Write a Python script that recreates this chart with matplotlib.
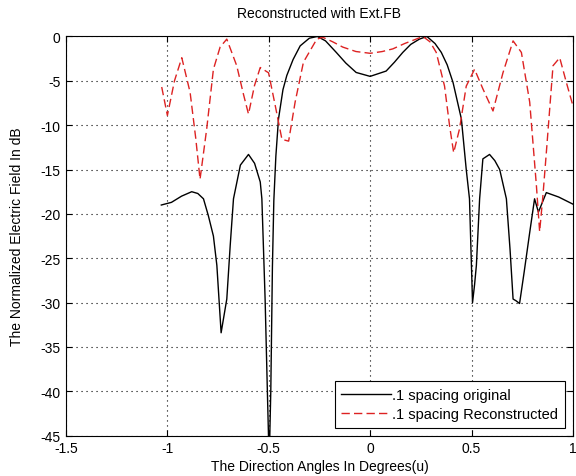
import matplotlib.pyplot as plt

plt.rcParams['font.family'] = ['Liberation Sans', 'DejaVu Sans']
plt.rcParams['axes.unicode_minus'] = False

# original pattern (.1 spacing)
u_orig = [-1.03, -0.98, -0.93, -0.88, -0.85, -0.822, -0.798, -0.773, -0.756, -0.735,
          -0.707, -0.69, -0.674, -0.64, -0.60, -0.57, -0.542, -0.534, -0.518, -0.506,
          -0.498, -0.49, -0.482, -0.475, -0.465, -0.452, -0.43, -0.411, -0.38, -0.345,
          -0.30, -0.26, -0.22, -0.167, -0.12, -0.069, 0.0, 0.079, 0.12, 0.161, 0.20,
          0.243, 0.28, 0.32, 0.351, 0.38, 0.409, 0.45, 0.474, 0.49, 0.505, 0.515,
          0.524, 0.54, 0.556, 0.589, 0.615, 0.639, 0.672, 0.69, 0.705, 0.72, 0.737,
          0.76, 0.787, 0.811, 0.83, 0.869, 0.93, 1.0]
db_orig = [-19.0, -18.7, -18.0, -17.5, -17.7, -18.3, -20.2, -22.5, -25.8, -33.4,
           -29.6, -23.5, -18.3, -14.5, -13.3, -14.3, -16.4, -18.3, -29.6, -40.8,
           -48.0, -40.0, -26.0, -18.5, -13.5, -9.3, -6.0, -4.4, -2.6, -1.06,
           -0.2, 0.0, -0.5, -1.8, -3.0, -4.06, -4.5, -3.9, -2.9, -1.8, -0.9,
           -0.3, 0.0, -0.8, -1.8, -3.2, -5.2, -9.3, -15.0, -18.3, -30.0, -28.0,
           -25.8, -18.3, -13.8, -13.3, -14.0, -15.0, -18.3, -24.0, -29.6, -29.8, -30.1,
           -26.5, -22.1, -18.3, -19.8, -17.6, -18.1, -18.9]

# reconstructed pattern (Ext.FB)
u_rec = [-1.028, -1.0, -0.965, -0.929, -0.888, -0.86, -0.839, -0.806, -0.773, -0.74,
         -0.707, -0.658, -0.625, -0.600, -0.57, -0.542, -0.501, -0.468, -0.435, -0.402,
         -0.37, -0.329, -0.263, -0.233, -0.185, -0.135, -0.07, 0.0, 0.06, 0.112, 0.17,
         0.227, 0.26, 0.295, 0.326, 0.367, 0.392, 0.412, 0.441, 0.474, 0.515, 0.556,
         0.606, 0.655, 0.705, 0.746, 0.787, 0.82, 0.836, 0.852, 0.869, 0.902, 0.935,
         0.968, 1.0]
db_rec = [-5.7, -8.9, -5.0, -2.4, -6.3, -11.5, -16.1, -10.4, -3.7, -1.2,
          -0.3, -3.3, -6.5, -8.75, -5.5, -3.5, -4.1, -7.8, -11.6, -11.8,
          -7.4, -2.9, -0.3, -0.1, -0.6, -1.2, -1.7, -1.9, -1.7, -1.4, -0.8,
          -0.3, 0.0, -0.6, -1.8, -5.6, -10.1, -13.1, -10.4, -5.6, -3.7, -5.9,
          -8.4, -4.1, -0.5, -1.8, -7.4, -16.8, -22.0, -18.0, -13.1, -3.3, -2.4,
          -5.2, -7.8]

fig = plt.figure(figsize=(5.76, 4.77), dpi=100)
ax = fig.add_axes([0.1146, 0.0845, 0.880, 0.837])

ax.plot(u_orig, db_orig, color='black', linewidth=1.0, label='.1 spacing original')
ax.plot(u_rec, db_rec, color='#dd2222', linestyle='--', linewidth=1.0,
        dashes=(6, 3), label='.1 spacing Reconstructed')

ax.set_xlim(-1.5, 1)
ax.set_ylim(-45, 0)
ax.set_xticks([-1.5, -1, -0.5, 0, 0.5, 1])
ax.set_xticklabels(['-1.5', '-1', '-0.5', '0', '0.5', '1'])
ax.set_yticks(range(-45, 1, 5))
ax.grid(True, color='black', linestyle=(0, (1, 3.5)), linewidth=0.8)
ax.tick_params(direction='in', top=True, right=True, labelsize=10, length=4, pad=4)
for s in ax.spines.values():
    s.set_linewidth(0.8)

ax.set_title('Reconstructed with Ext.FB', fontsize=10, pad=14)
ax.set_xlabel('The Direction Angles In Degrees(u)', fontsize=10, labelpad=3)
ax.set_ylabel('The Normalized Electric Field In dB', fontsize=10, labelpad=12)

leg = ax.legend(loc='lower right', fontsize=10.5, fancybox=False, framealpha=1,
                edgecolor='black', borderaxespad=0.55, handlelength=3.4,
                handletextpad=0.1, borderpad=0.45, labelspacing=0.35)
leg.get_frame().set_linewidth(0.8)

fig.savefig('out.png', dpi=100)
